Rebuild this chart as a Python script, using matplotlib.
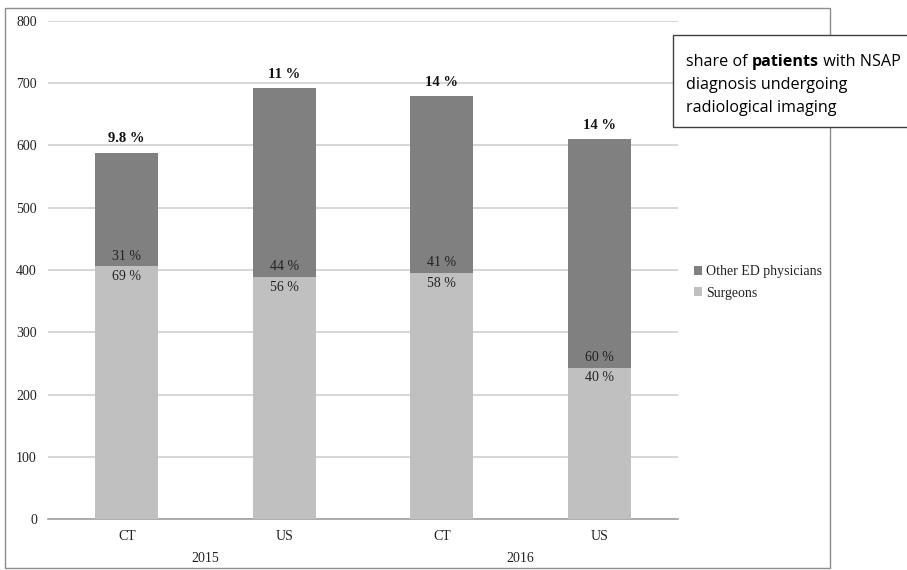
import numpy as np
import matplotlib.pyplot as plt
from matplotlib.patches import Rectangle

# data
categories = ["CT", "US", "CT", "US"]
years = ["2015", "2016"]
surgeons = [406, 389, 395, 243]
other_ed = [182, 303, 284, 367]
top_labels = ["9.8 %", "11 %", "14 %", "14 %"]
surgeon_pct = ["69 %", "56 %", "58 %", "40 %"]
other_pct = ["31 %", "44 %", "41 %", "60 %"]

DARK = "#808080"
LIGHT = "#c0c0c0"

plt.rcParams["font.family"] = ["Liberation Serif", "DejaVu Serif"]

fig = plt.figure(figsize=(9.07, 5.70), dpi=100)
ax = fig.add_axes([48 / 907, 51 / 570, 630 / 907, 498 / 570])

x = np.arange(len(categories))
ax.bar(x, surgeons, width=0.4, color=LIGHT, label="Surgeons", zorder=3)
ax.bar(x, other_ed, width=0.4, bottom=surgeons, color=DARK,
       label="Other ED physicians", zorder=3)

totals = np.array(surgeons) + np.array(other_ed)
for i in range(len(x)):
    ax.text(x[i], totals[i] + 12, top_labels[i], ha="center", va="bottom",
            fontsize=10.5, fontweight="bold", color="#111111")
    ax.text(x[i], surgeons[i] + 6, other_pct[i], ha="center", va="bottom",
            fontsize=10, color="#222222")
    ax.text(x[i], surgeons[i] - 6, surgeon_pct[i], ha="center", va="top",
            fontsize=10, color="#222222")

ax.set_xlim(-0.5, 3.5)
ax.set_ylim(0, 800)
ax.set_yticks(range(0, 801, 100))
ax.yaxis.grid(True, color="#d0d0d0", linewidth=1.2, zorder=0)
ax.set_axisbelow(True)
for s in ["top", "right", "left"]:
    ax.spines[s].set_visible(False)
ax.spines["bottom"].set_color("#a0a0a0")
ax.spines["bottom"].set_linewidth(1.2)
ax.tick_params(axis="y", length=0, pad=8, labelsize=10, labelcolor="#222222")
ax.tick_params(axis="x", length=0, pad=8, labelsize=10, labelcolor="#222222")
ax.set_xticks(x)
ax.set_xticklabels(categories)

# year level of the category axis
for j, yr in enumerate(years):
    ax.text(2 * j + 0.5, -0.066, yr, transform=ax.get_xaxis_transform(),
            ha="center", va="top", fontsize=10, color="#222222")

handles, labels = ax.get_legend_handles_labels()
ax.legend(handles[::-1], labels[::-1], loc="center left",
          bbox_to_anchor=(1.005, 0.475), frameon=False, fontsize=10,
          handlelength=0.6, handleheight=0.6, handletextpad=0.3,
          labelspacing=0.6, labelcolor="#222222")

# outer chart frame
fig.patches.append(Rectangle((5 / 907, 2 / 570), 825 / 907, 560 / 570,
                             transform=fig.transFigure, fill=False,
                             edgecolor="#8c8c8c", linewidth=1.0))

# annotation box
fig.patches.append(Rectangle((673 / 907, (570 - 127) / 570), 240 / 907, 92 / 570,
                             transform=fig.transFigure, facecolor="white",
                             edgecolor="#404040", linewidth=1.0, zorder=5))

renderer = fig.canvas.get_renderer()
box_font = dict(fontsize=11.6, family="Open Sans", va="baseline", ha="left",
                color="#000000", zorder=6)
x0 = 686
base_y = [66, 89, 112]
pieces = [("share of ", "normal"), ("patients", "bold"), (" with NSAP", "normal")]
xp = x0
for txt, wt in pieces:
    t = fig.text(xp / 907, (570 - base_y[0]) / 570, txt, fontweight=wt, **box_font)
    bb = t.get_window_extent(renderer)
    xp += bb.width
fig.text(x0 / 907, (570 - base_y[1]) / 570, "diagnosis undergoing", **box_font)
fig.text(x0 / 907, (570 - base_y[2]) / 570, "radiological imaging", **box_font)

fig.savefig("out.png", dpi=100)
